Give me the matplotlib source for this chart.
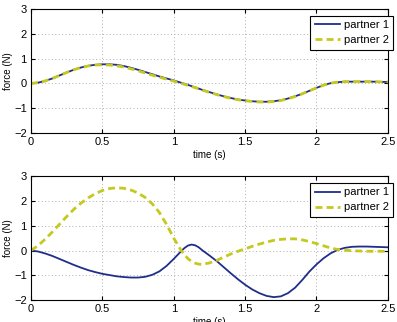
import matplotlib

matplotlib.use("Agg")
import matplotlib.pyplot as plt

plt.rcParams["font.family"] = ["Liberation Sans", "DejaVu Sans"]

BLUE = "#1f2d8c"
YELLOW = "#c5c91e"

# time samples (s)
t = [0.0, 0.05, 0.1, 0.15, 0.2, 0.25, 0.3, 0.35, 0.4, 0.45, 0.5,
     0.55, 0.6, 0.65, 0.7, 0.75, 0.8, 0.85, 0.9, 0.95, 1.0,
     1.05, 1.075, 1.1, 1.125, 1.15, 1.175, 1.2, 1.25, 1.3, 1.35, 1.4, 1.45, 1.5,
     1.55, 1.6, 1.65, 1.7, 1.75, 1.8, 1.85, 1.9, 1.95, 2.0,
     2.05, 2.1, 2.15, 2.2, 2.25, 2.3, 2.35, 2.4, 2.45, 2.5]

# top panel: partners in agreement
top_p1 = [0.0, 0.03, 0.1, 0.2, 0.32, 0.44, 0.55, 0.64, 0.71, 0.75, 0.77,
          0.77, 0.75, 0.7, 0.63, 0.55, 0.46, 0.37, 0.28, 0.2, 0.12,
          0.03, -0.015, -0.06, -0.11, -0.16, -0.21, -0.26, -0.35, -0.44, -0.52, -0.59, -0.65, -0.69,
          -0.72, -0.74, -0.74, -0.72, -0.68, -0.61, -0.52, -0.42, -0.3, -0.18,
          -0.07, 0.01, 0.05, 0.07, 0.07, 0.07, 0.07, 0.07, 0.06, 0.06]
top_p2 = [0.0, 0.03, 0.1, 0.2, 0.32, 0.44, 0.55, 0.64, 0.7, 0.74, 0.75,
          0.74, 0.71, 0.66, 0.59, 0.51, 0.42, 0.33, 0.25, 0.17, 0.09,
          0.01, -0.035, -0.08, -0.125, -0.17, -0.22, -0.27, -0.36, -0.45, -0.53, -0.6, -0.66, -0.7,
          -0.73, -0.75, -0.75, -0.73, -0.69, -0.62, -0.53, -0.42, -0.3, -0.18,
          -0.07, 0.01, 0.05, 0.07, 0.07, 0.07, 0.07, 0.07, 0.06, 0.06]

# bottom panel: partners in conflict
bot_p1 = [0.0, -0.04, -0.12, -0.22, -0.34, -0.46, -0.58, -0.69, -0.79, -0.87, -0.94,
          -0.99, -1.04, -1.07, -1.09, -1.09, -1.06, -0.98, -0.84, -0.62, -0.34,
          -0.04, 0.1, 0.2, 0.24, 0.21, 0.13, 0.01, -0.2, -0.42, -0.67, -0.92, -1.16, -1.38,
          -1.57, -1.72, -1.83, -1.88, -1.85, -1.72, -1.5, -1.19, -0.85, -0.56,
          -0.31, -0.11, 0.03, 0.11, 0.15, 0.16, 0.16, 0.15, 0.14, 0.13]
bot_p2 = [0.0, 0.2, 0.46, 0.75, 1.06, 1.37, 1.66, 1.91, 2.12, 2.29, 2.42,
          2.5, 2.53, 2.51, 2.44, 2.32, 2.14, 1.88, 1.53, 1.05, 0.5,
          0.02, -0.17, -0.33, -0.44, -0.51, -0.55, -0.56, -0.5, -0.4, -0.27, -0.14, -0.03, 0.07,
          0.17, 0.26, 0.34, 0.41, 0.45, 0.47, 0.47, 0.43, 0.36, 0.28,
          0.19, 0.1, 0.04, 0.01, -0.01, -0.02, -0.03, -0.03, -0.03, -0.03]

XTICKS = [0, 0.5, 1, 1.5, 2, 2.5]
XTICKLABELS = ["0", "0.5", "1", "1.5", "2", "2.5"]
YTICKS = [-2, -1, 0, 1, 2, 3]
YTICKLABELS = ["\u22122", "\u22121", "0", "1", "2", "3"]


def style(ax):
    ax.set_xlim(0, 2.5)
    ax.set_ylim(-2, 3)
    ax.set_xticks(XTICKS)
    ax.set_xticklabels(XTICKLABELS)
    ax.set_yticks(YTICKS)
    ax.set_yticklabels(YTICKLABELS)
    ax.tick_params(direction="in", length=3, labelsize=8, pad=3,
                   top=True, right=True)
    ax.grid(True, color="#b0b0b0", linestyle=(0, (1, 2.5)), linewidth=0.7)
    for s in ax.spines.values():
        s.set_linewidth(0.8)
    ax.set_xlabel("time (s)", fontsize=7, labelpad=2)
    ax.set_ylabel("force (N)", fontsize=7, labelpad=1)
    # MATLAB-style legend box, reaching slightly past the right spine
    leg = ax.legend(loc="upper right", bbox_to_anchor=(1.015, 0.945),
                    fontsize=8, fancybox=False, framealpha=1,
                    edgecolor="black", borderpad=0.4, handlelength=2.3,
                    handletextpad=0.3, labelspacing=0.45, borderaxespad=0.0)
    leg.get_frame().set_linewidth(0.8)


fig = plt.figure(figsize=(3.97, 3.22), dpi=100)
ax1 = fig.add_axes([0.078, 0.587, 0.899, 0.385])
ax2 = fig.add_axes([0.078, 0.068, 0.899, 0.385])

ax1.plot(t, top_p1, color=BLUE, lw=1.3, label="partner 1")
ax1.plot(t, top_p2, color=YELLOW, lw=2.0, ls=(0, (2.5, 1.5)), label="partner 2")
style(ax1)

ax2.plot(t, bot_p1, color=BLUE, lw=1.3, label="partner 1")
ax2.plot(t, bot_p2, color=YELLOW, lw=2.0, ls=(0, (2.5, 1.5)), label="partner 2")
style(ax2)

fig.savefig("out.png", dpi=100)
